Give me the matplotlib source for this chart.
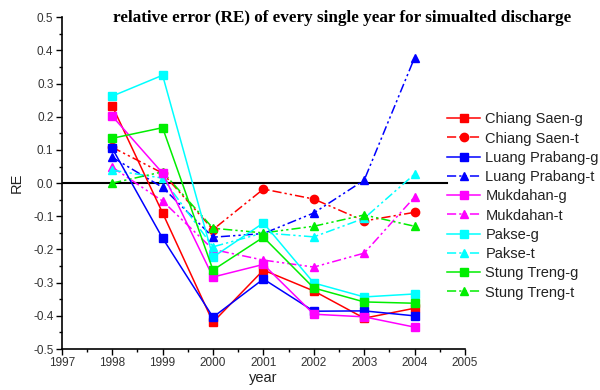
import matplotlib

matplotlib.use("Agg")

import matplotlib.pyplot as plt
from matplotlib.ticker import MultipleLocator

years = [1998, 1999, 2000, 2001, 2002, 2003, 2004]

chiang_saen_g = [0.233, -0.090, -0.419, -0.262, -0.325, -0.407, -0.377]
chiang_saen_t = [0.108, 0.030, -0.140, -0.018, -0.048, -0.114, -0.088]
luang_prabang_g = [0.105, -0.166, -0.404, -0.289, -0.386, -0.385, -0.400]
luang_prabang_t = [0.078, -0.013, -0.163, -0.152, -0.090, 0.009, 0.378]
mukdahan_g = [0.202, 0.030, -0.283, -0.245, -0.395, -0.403, -0.434]
mukdahan_t = [0.048, -0.054, -0.200, -0.232, -0.253, -0.211, -0.042]
pakse_g = [0.262, 0.325, -0.223, -0.120, -0.301, -0.343, -0.334]
pakse_t = [0.039, 0.015, -0.192, -0.150, -0.162, -0.106, 0.027]
stung_treng_g = [0.135, 0.167, -0.262, -0.163, -0.316, -0.358, -0.362]
stung_treng_t = [0.000, 0.034, -0.136, -0.150, -0.130, -0.096, -0.130]

series = [
    ("Chiang Saen-g", chiang_saen_g, "#ff0000", "g", "s"),
    ("Chiang Saen-t", chiang_saen_t, "#ff0000", "t", "o"),
    ("Luang Prabang-g", luang_prabang_g, "#0000ff", "g", "s"),
    ("Luang Prabang-t", luang_prabang_t, "#0000ff", "t", "^"),
    ("Mukdahan-g", mukdahan_g, "#ff00ff", "g", "s"),
    ("Mukdahan-t", mukdahan_t, "#ff00ff", "t", "^"),
    ("Pakse-g", pakse_g, "#00ffff", "g", "s"),
    ("Pakse-t", pakse_t, "#00ffff", "t", "^"),
    ("Stung Treng-g", stung_treng_g, "#00ee00", "g", "s"),
    ("Stung Treng-t", stung_treng_t, "#00ee00", "t", "^"),
]

plt.rcParams["font.family"] = ["Liberation Sans", "DejaVu Sans"]

fig = plt.figure(figsize=(6.0, 3.9), dpi=100)
ax = fig.add_axes([0.103, 0.105, 0.672, 0.851])

# zero reference line (stops short of the right end, as in the original)
ax.plot([1997, 2004.65], [0, 0], color="black", linewidth=1.5, zorder=1)

for label, values, color, kind, marker in series:
    if kind == "g":
        ax.plot(years, values, color=color, linewidth=1.1, marker=marker,
                markersize=5.5, label=label, zorder=3)
    else:
        ax.plot(years, values, color=color, linewidth=1.1,
                linestyle=(0, (6, 2, 1.5, 2, 1.5, 2)), marker=marker,
                markersize=6, label=label, zorder=2)

ax.set_xlim(1997, 2005)
ax.set_ylim(-0.5, 0.5)
ax.xaxis.set_major_locator(MultipleLocator(1))
ax.xaxis.set_minor_locator(MultipleLocator(0.5))
ax.yaxis.set_major_locator(MultipleLocator(0.1))
ax.yaxis.set_minor_locator(MultipleLocator(0.05))
ax.yaxis.set_major_formatter(lambda v, pos: f"{v:.1f}")
ax.tick_params(which="major", direction="out", length=4, width=1, labelsize=8.5,
               pad=2, labelcolor="#333333")
ax.tick_params(which="minor", direction="out", length=2.5, width=1)

for side in ["top", "right"]:
    ax.spines[side].set_visible(False)
for side in ["left", "bottom"]:
    ax.spines[side].set_linewidth(1.2)

ax.set_xlabel("year", fontsize=10.5, labelpad=1, color="#222222")
ax.set_ylabel("RE", fontsize=10.5, labelpad=7, color="#222222")

fig.text(0.57, 0.955, "relative error (RE) of every single year for simualted discharge",
         ha="center", va="center", fontsize=12.3, fontweight="bold",
         family=["Liberation Serif", "DejaVu Serif"])

ax.legend(loc="upper left", bbox_to_anchor=(0.735, 0.727), bbox_transform=fig.transFigure,
          frameon=False, fontsize=10.5, handlelength=2.3, handletextpad=0.35,
          labelspacing=0.36, borderaxespad=0, labelcolor="#222222")

fig.savefig("out.png", dpi=100, facecolor="white")
plt.close(fig)
